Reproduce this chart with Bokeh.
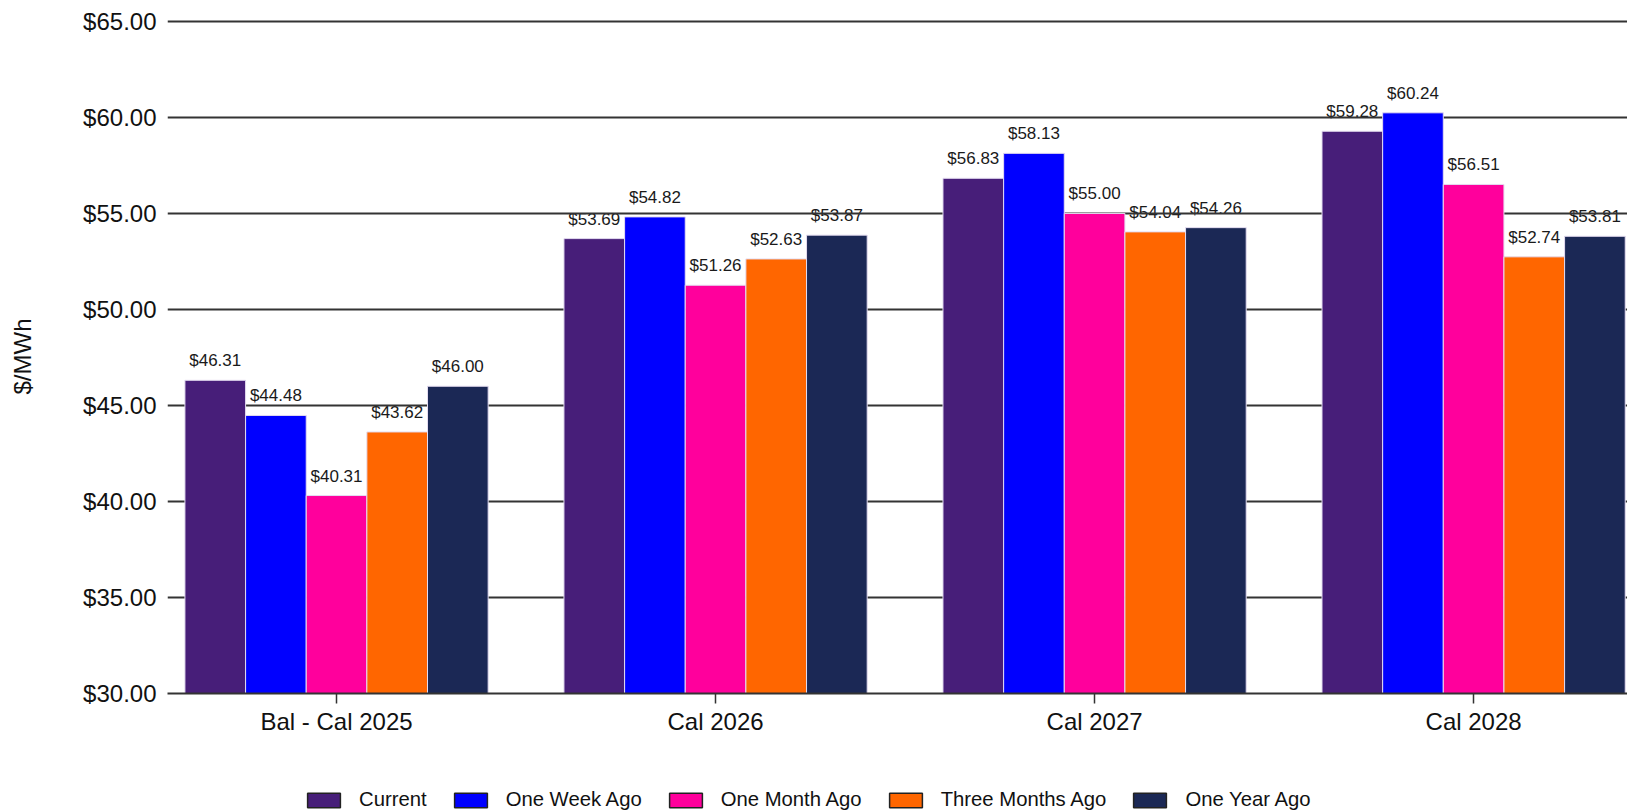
from bokeh.plotting import figure
from bokeh.layouts import column
from bokeh.models import (ColumnDataSource, FixedTicker, NumeralTickFormatter,
                          LabelSet, Legend, LegendItem)
from bokeh.core.properties import value
from bokeh.transform import dodge
from bokeh.embed import file_html
from bokeh.resources import INLINE

# Forward price strips ($/MWh) by contract period
categories = ["Bal - Cal 2025", "Cal 2026", "Cal 2027", "Cal 2028"]
series_names = ["Current", "One Week Ago", "One Month Ago", "Three Months Ago", "One Year Ago"]
current = [46.31, 53.69, 56.83, 59.28]
one_week_ago = [44.48, 54.82, 58.13, 60.24]
one_month_ago = [40.31, 51.26, 55.00, 56.51]
three_months_ago = [43.62, 52.63, 54.04, 52.74]
one_year_ago = [46.00, 53.87, 54.26, 53.81]
y_ticks = [30, 35, 40, 45, 50, 55, 60, 65]

series_values = [current, one_week_ago, one_month_ago, three_months_ago, one_year_ago]
colors = ["#471e79", "#0000ff", "#ff009c", "#ff6600", "#1b2855"]

FONT = "Liberation Sans"
BAR_W = 0.16
W = 1627
MAIN_H = 760
KEY_H = 51

p = figure(width=W, height=MAIN_H, output_backend="svg", toolbar_location=None,
           x_range=(-0.446, 3.406), y_range=(30, 65.1),
           min_border_left=167, min_border_right=0, min_border_top=19,
           min_border_bottom=67)
p.outline_line_color = None
p.background_fill_color = "white"
p.border_fill_color = "white"

src = {"x": list(range(len(categories)))}
for name, vals in zip(series_names, series_values):
    src[name] = vals
    src[name + "_lbl"] = ["${:.2f}".format(v) for v in vals]
source = ColumnDataSource(src)

offsets = [(i - 2) * BAR_W for i in range(len(series_names))]
for name, off, col in zip(series_names, offsets, colors):
    p.vbar(x=dodge("x", off, range=p.x_range), top=name, bottom=30, width=BAR_W,
           source=source, fill_color=col, line_color="#e4dcf0", line_width=1)
    labels = LabelSet(x=dodge("x", off, range=p.x_range), y=name, text=name + "_lbl",
                      source=source, text_align="center", text_baseline="alphabetic",
                      y_offset=14, text_font=value(FONT), text_font_size="17px",
                      text_color="#1a1a1a", level="image")
    p.add_layout(labels)

# y axis
p.yaxis.ticker = FixedTicker(ticks=y_ticks)
p.yaxis.formatter = NumeralTickFormatter(format="$0.00")
p.yaxis.axis_label = "$/MWh"
p.yaxis.axis_label_text_font = FONT
p.yaxis.axis_label_text_font_size = "24px"
p.yaxis.axis_label_text_font_style = "normal"
p.yaxis.axis_label_text_color = "#111111"
p.yaxis.axis_label_standoff = 44
p.yaxis.major_label_text_font = FONT
p.yaxis.major_label_text_font_size = "24px"
p.yaxis.major_label_text_color = "#111111"
p.yaxis.major_label_standoff = 5
p.yaxis.axis_line_color = None
p.yaxis.major_tick_line_color = None
p.yaxis.minor_tick_line_color = None

# x axis
p.xaxis.ticker = FixedTicker(ticks=list(range(len(categories))))
p.xaxis.major_label_overrides = {i: c for i, c in enumerate(categories)}
p.xaxis.major_label_text_font = FONT
p.xaxis.major_label_text_font_size = "24px"
p.xaxis.major_label_text_color = "#111111"
p.xaxis.major_label_standoff = 4
p.xaxis.axis_line_color = "#333333"
p.xaxis.axis_line_width = 2
p.xaxis.major_tick_line_color = "#333333"
p.xaxis.major_tick_line_width = 1.5
p.xaxis.major_tick_out = 10
p.xaxis.major_tick_in = 0
p.xaxis.minor_tick_line_color = None

p.xgrid.grid_line_color = None
p.ygrid.ticker = FixedTicker(ticks=y_ticks)
p.ygrid.grid_line_color = "#333333"
p.ygrid.grid_line_width = 2

# key strip under the chart (its frame lines up with the chart frame)
key = figure(width=W, height=KEY_H, output_backend="svg", toolbar_location=None,
             x_range=(0, 1), y_range=(0, 1), x_axis_type=None, y_axis_type=None,
             min_border=0)
key.outline_line_color = None
key.xgrid.visible = False
key.ygrid.visible = False
legend_items = []
for name, col in zip(series_names, colors):
    # swatch glyph with no drawable extent, only shown in the key
    sw = key.vbar(x=[float("nan")], top=[float("nan")], bottom=[float("nan")], width=1,
                  fill_color=col, line_color="#222222", line_width=1.5)
    legend_items.append(LegendItem(label=name, renderers=[sw]))

legend = Legend(items=legend_items, orientation="horizontal",
                location=(136, 0), glyph_width=41, glyph_height=18,
                label_text_font=FONT, label_text_font_size="20.3px",
                label_text_color="#111111", label_standoff=15, spacing=23,
                padding=0, margin=0, border_line_color=None,
                background_fill_alpha=0)
key.add_layout(legend, "center")

layout = column(p, key, spacing=0)
open("out.html", "w").write(file_html(layout, INLINE))
